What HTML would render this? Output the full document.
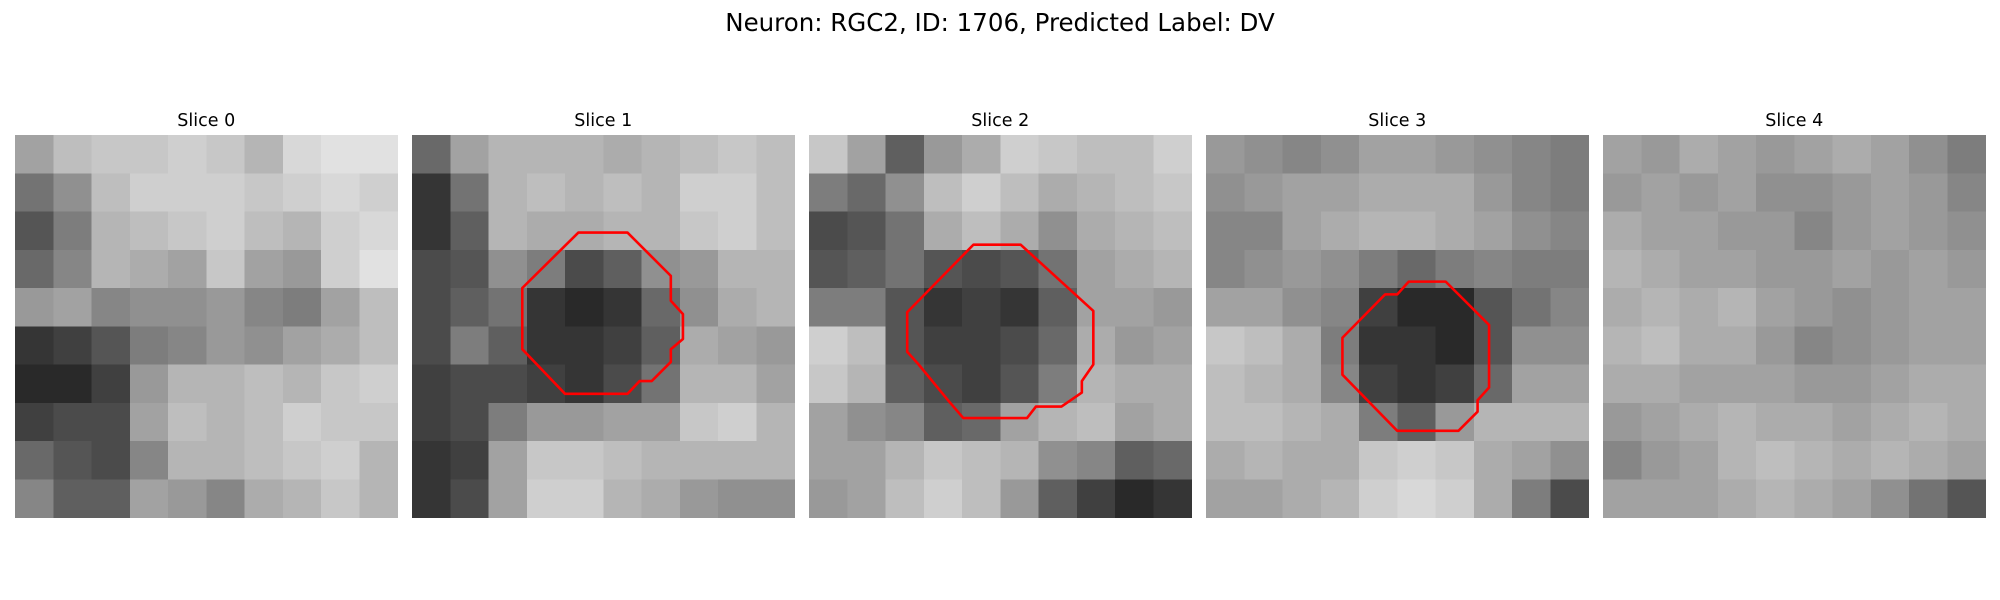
<!DOCTYPE html>
<html><head><meta charset="utf-8"><style>
html,body{margin:0;padding:0;background:#fff;width:2000px;height:600px;overflow:hidden}
svg{display:block}
text{font-family:"DejaVu Sans","Liberation Sans",sans-serif}
</style></head><body>
<svg id="fig" width="2000" height="600" viewBox="0 0 2000 600">
<text x="1000" y="31" text-anchor="middle" font-size="24.5" fill="#000">Neuron: RGC2, ID: 1706, Predicted Label: DV</text>
</svg>
<script>
// Panel titles
const sliceTitles = ["Slice 0","Slice 1","Slice 2","Slice 3","Slice 4"];
// Coarse 10x10 intensity grids (0-255), each block = 3x3 original pixels
const slice0 = [
[150,180,190,190,200,190,170,210,220,220],
[100,130,180,200,200,200,190,200,210,200],
[70,110,170,180,190,200,180,170,200,210],
[90,120,170,160,150,190,150,140,200,220],
[140,150,120,130,130,140,120,110,150,180],
[40,50,70,110,120,140,130,150,160,180],
[30,30,50,140,170,170,180,170,190,200],
[50,60,60,150,180,170,180,200,190,190],
[90,70,60,120,170,170,180,190,200,170],
[120,80,80,150,140,120,160,170,190,170]];
const slice1 = [
[90,150,170,170,170,160,170,180,190,180],
[40,100,170,180,170,180,170,200,200,180],
[40,80,170,160,160,170,170,190,200,180],
[60,70,130,110,60,80,130,140,170,170],
[60,80,100,40,30,40,90,130,160,170],
[60,110,80,40,40,50,80,160,150,140],
[50,60,60,50,40,60,100,170,170,150],
[50,60,110,140,140,150,150,190,200,170],
[40,50,150,190,190,180,170,170,170,170],
[40,60,150,200,200,170,160,140,130,130]];
const slice2 = [
[190,150,80,140,160,200,190,180,180,200],
[110,90,130,180,200,180,160,170,180,190],
[60,70,100,160,180,160,130,160,170,180],
[70,80,100,70,60,70,100,150,160,170],
[110,110,70,40,50,40,80,150,150,140],
[200,180,70,50,50,60,90,160,140,150],
[190,170,80,60,50,70,110,170,160,160],
[150,130,120,80,90,150,170,180,150,160],
[150,150,170,190,180,170,130,120,80,90],
[140,150,180,200,180,140,80,50,30,40]];
const slice3 = [
[140,130,120,130,150,150,140,130,120,110],
[130,140,150,150,160,160,160,140,120,110],
[120,120,150,160,170,170,160,150,130,120],
[120,130,140,130,110,90,110,120,110,110],
[150,150,130,120,50,30,30,70,100,120],
[190,180,160,110,40,40,30,70,130,130],
[180,170,160,120,50,40,50,90,150,150],
[180,180,170,160,110,80,140,170,170,170],
[160,170,160,160,190,200,190,160,150,130],
[150,150,160,170,200,210,200,160,110,60]];
const slice4 = [
[150,140,160,150,140,150,160,150,130,110],
[140,150,140,150,130,130,140,150,140,120],
[160,150,150,140,140,120,140,150,140,130],
[170,160,150,150,140,140,150,140,150,140],
[160,170,160,170,150,140,130,140,150,150],
[170,180,160,160,140,120,130,140,150,150],
[160,160,150,150,150,140,140,150,160,160],
[140,150,160,170,160,160,150,160,170,160],
[120,140,150,170,180,170,160,170,160,150],
[150,150,150,160,170,160,150,130,100,70]];
const slices = [slice0,slice1,slice2,slice3,slice4];
// Contours in original 30x30 pixel units [x,y]
const contour1 = [[13.05,7.65],[16.9,7.65],[20.3,11.05],[20.3,13],[21.25,14.05],[21.25,16],[20.3,16.8],[20.3,17.8],[18.8,19.3],[17.85,19.3],[16.9,20.3],[12,20.3],[8.65,16.8],[8.65,12]];
const contour2 = [[12.9,8.6],[16.6,8.6],[22.3,13.8],[22.3,18],[21.4,19.3],[21.4,20.2],[19.8,21.3],[17.8,21.3],[17.1,22.2],[12.1,22.2],[10.9,20.8],[8.6,18],[7.7,17],[7.7,13.9]];
const contour3 = [[15.9,11.5],[18.8,11.5],[22.2,14.9],[22.2,19.8],[21.3,20.8],[21.3,21.7],[19.8,23.2],[15,23.2],[10.7,18.8],[10.7,15.9],[14.05,12.5],[15,12.5]];
const contours = [null,contour1,contour2,contour3,null];

const NS = "http://www.w3.org/2000/svg";
const svg = document.getElementById('fig');
const panelX = [15,412,809,1206,1603];
const panelY = 135, panelW = 382.5, panelH = 382.5, imgPx = 30;
function sx(p, v){ return panelX[p] + v / imgPx * panelW; }
function sy(v){ return panelY + v / imgPx * panelH; }
function gray(v){ return Math.round(255 * Math.pow(v/255, 0.85)); }

slices.forEach((grid, p) => {
  const g = document.createElementNS(NS,'g');
  
  
  svg.appendChild(g);
  const t = document.createElementNS(NS,'text');
  t.setAttribute('x', panelX[p] + panelW/2);
  t.setAttribute('y', 126);
  t.setAttribute('text-anchor','middle');
  t.setAttribute('font-size','17.5');
  t.textContent = sliceTitles[p];
  
  
  g.appendChild(t);
  const rows = grid.length, cols = grid[0].length;
  grid.forEach((row, r) => row.forEach((v, c) => {
    const rc = document.createElementNS(NS,'rect');
    const x0 = sx(p, c*imgPx/cols), x1 = sx(p, (c+1)*imgPx/cols);
    const y0 = sy(r*imgPx/rows), y1 = sy((r+1)*imgPx/rows);
    rc.setAttribute('x', x0); rc.setAttribute('y', y0);
    rc.setAttribute('width', x1-x0+0.5); rc.setAttribute('height', y1-y0+0.5);
    const gv = gray(v);
    rc.setAttribute('fill', `rgb(${gv},${gv},${gv})`);
    rc.setAttribute('shape-rendering','crispEdges');
    
    
    g.appendChild(rc);
  }));
  const ct = contours[p];
  if (ct) {
    const pl = document.createElementNS(NS,'polygon');
    pl.setAttribute('points', ct.map(q => sx(p,q[0]) + ',' + sy(q[1])).join(' '));
    pl.setAttribute('fill','none');
    pl.setAttribute('stroke','#ff0000');
    pl.setAttribute('stroke-width','2.6');
    pl.setAttribute('stroke-linejoin','round');
    
    
    g.appendChild(pl);
  }
});
</script>
</body></html>
